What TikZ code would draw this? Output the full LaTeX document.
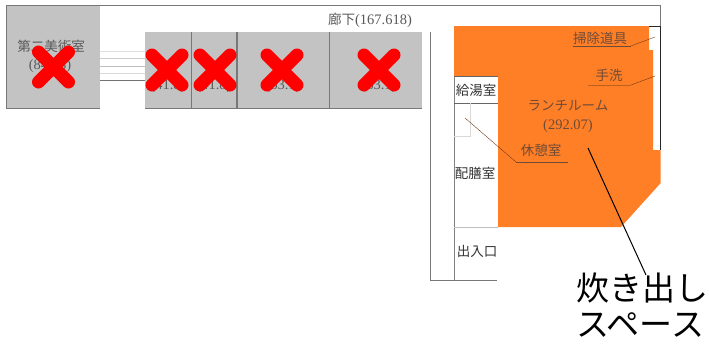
\documentclass[tikz,border=0pt]{standalone}
\usepackage{fontspec}
\setmainfont{Liberation Serif}
\newfontfamily\cjk{Noto Sans CJK JP}
\newcommand{\fsz}[1]{\fontsize{#1}{#1}\selectfont}
\definecolor{wallgray}{RGB}{120,120,120}
\definecolor{roomgray}{RGB}{195,195,195}
\definecolor{lunch}{RGB}{255,127,39}
\definecolor{labelink}{RGB}{110,75,55}
\tikzset{
  x=1pt,y=-1pt,
  wall/.style={draw=wallgray,line width=1pt},
  wallthin/.style={draw=wallgray,line width=.8pt},
  room/.style={fill=roomgray},
  crossmark/.style={draw=red,line width=13pt,line cap=round},
  small/.style={font=\cjk\fsz{13.5},text=black!65,inner sep=0pt},
  smalllab/.style={font=\cjk\fsz{13.5},text=labelink,inner sep=0pt},
  num/.style={font=\fsz{14.5},text=black!65,inner sep=0pt},
  numlab/.style={font=\fsz{14.5},text=labelink,inner sep=0pt},
  big/.style={font=\cjk\fsz{33},text=black,inner sep=0pt},
  leader/.style={draw=black!55!lunch,line width=.4pt},
  under/.style={draw=labelink,line width=.8pt},
}
\begin{document}
\begin{tikzpicture}
\useasboundingbox (0,0) rectangle (709,343);
\fill[white] (0,0) rectangle (709,343);
% gray rooms
\fill[room] (6,5) rectangle (99.5,108);
\fill[room] (145,32) rectangle (422,108);
% corridor lines
\foreach \yy/\cc in {51/black!12,58/black!20,66/black!25,73/black!15,80/black!55}
  \draw[draw=\cc,line width=1pt] (99.5,\yy) -- (145,\yy);
% outer walls
\draw[wall] (6,108) -- (6,5) -- (660.7,5) -- (660.7,26);
\draw[wall] (6,108) -- (99.5,108);
\draw[wall] (145,108) -- (422,108);
\draw[wall] (191,32) -- (191,108);
\draw[wall,line width=1.2pt] (237,32) -- (237,108);
\draw[wallthin] (329.5,32) -- (329.5,108);
\draw[wall] (430,32) -- (430,280) -- (497,280);
% lunch room
\fill[lunch] (454,26) -- (649,26) -- (649,50) -- (653,50) -- (653,150) -- (660.7,150) -- (660.7,183) -- (621,227) -- (498,227) -- (498,76) -- (454,76) -- cycle;
\draw[black!85,line width=.7pt] (649,26) -- (660.5,26) -- (660.5,150);
% service rooms
\draw[black!50,line width=.5pt] (454,76) -- (454,280);
\draw[black!60,line width=.7pt] (454,76) -- (498,76);
\draw[black!60,line width=.7pt] (454,103) -- (498,103);
\draw[black!15,line width=.8pt] (470,103) -- (470,136) -- (454,136);
\draw[black!25,line width=.6pt] (454,227) -- (498,227);
% texts
\node[small] (art) at (51,46) {第二美術室};
\node[num] (artnum) at (50,66) {(84.58)};
\node[num] (r1) at (168,86) {(41.8)};
\node[num] (r2) at (214,86) {(41.8)};
\node[num] (r3) at (283,86) {(63.1)};
\node[num] (r4) at (379,86) {(63.1)};
\node[inner sep=0pt,text=black!65] (corr) at (370,20) {\cjk\fsz{13.5}廊下\normalfont\fsz{14.5}(167.618)};
\node[small,text=black!80] (kyuto) at (476,90) {給湯室};
\node[small,text=black!80] (haizen) at (475,173) {配膳室};
\node[small,text=black!80] (deiri) at (477,251) {出入口};
\node[smalllab] (lunchname) at (568,106) {ランチルーム};
\node[numlab] (lunchnum) at (568,126) {(292.07)};
\node[smalllab] (souji) at (600,38) {掃除道具};
\node[smalllab] (tearai) at (609,75) {手洗};
\node[smalllab] (kyukei) at (541,150) {休憩室};
\node[big,anchor=west] (b1) at (576,288) {炊き出し};
\node[big,anchor=west] (b2) at (576,325) {スペース};
% leaders
\coordinate (s1) at (573,46); \coordinate (s2) at (631,46); \coordinate (s3) at (655,37);
\coordinate (t1) at (588,85); \coordinate (t2) at (631,85); \coordinate (t3) at (655,76);
\coordinate (k1) at (568,162); \coordinate (k2) at (516,162); \coordinate (k3) at (465,118);
\coordinate (p1) at (588,148); \coordinate (p2) at (646,275);
\draw[under] (s1) -- (s2); \draw[leader] (s2) -- (s3);
\draw[under,draw=lunch!75!black] (t1) -- (t2); \draw[leader] (t2) -- (t3);
\draw[under] (k1) -- (k2); \draw[leader] (k2) -- (k3);
\draw[black,line width=1pt] (p1) -- (p2);
% crosses
\foreach \cx/\cy in {53.5/67,167/70,215/70,282/70,379/70}{
  \draw[crossmark] (\cx-15,\cy-15) -- (\cx+15,\cy+15);
  \draw[crossmark] (\cx-15,\cy+15) -- (\cx+15,\cy-15);
}
\end{tikzpicture}
\end{document}
